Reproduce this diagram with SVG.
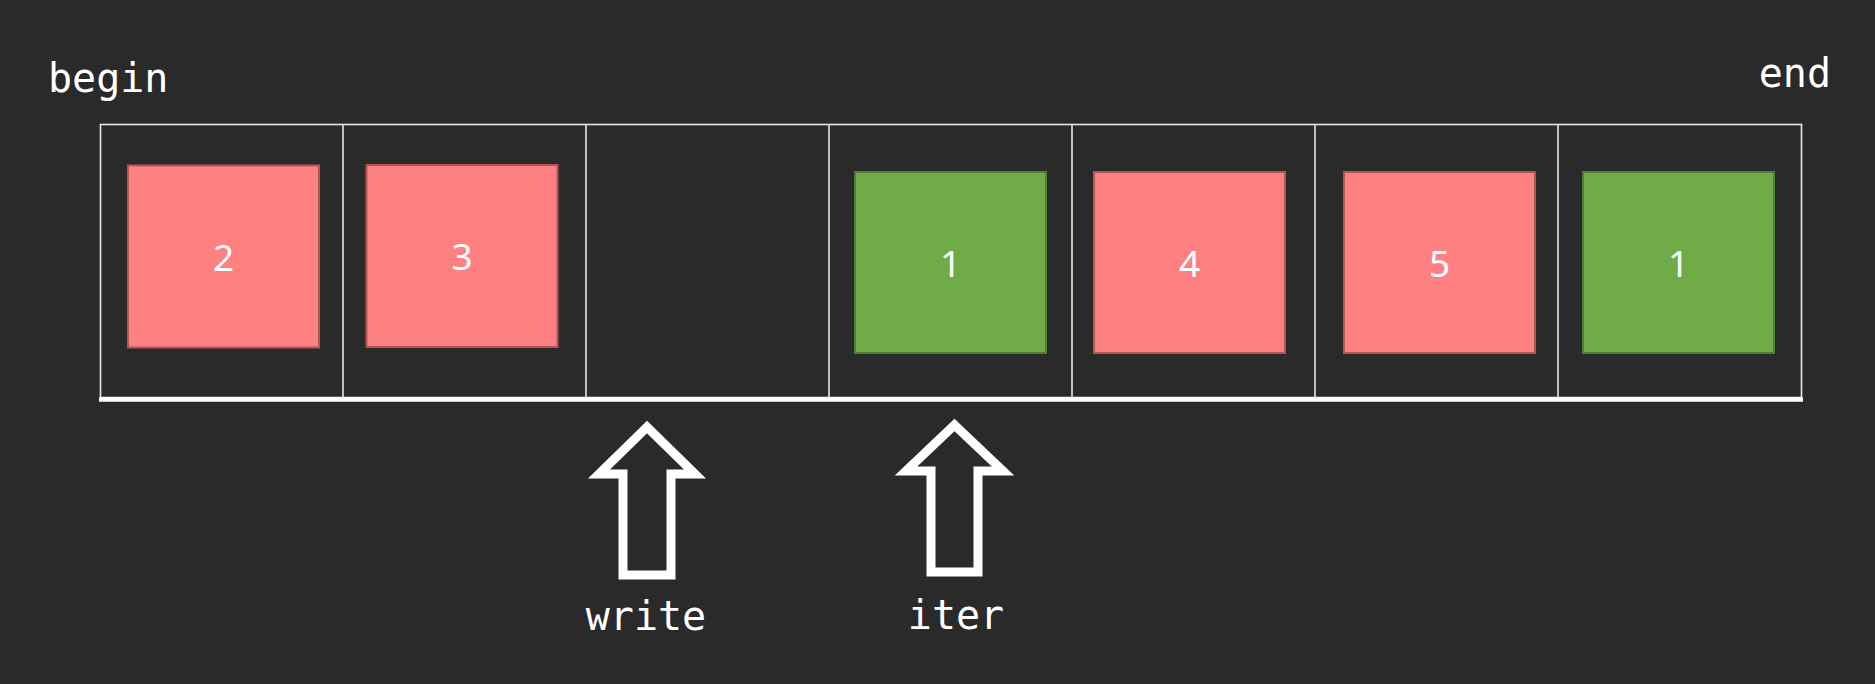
<svg xmlns="http://www.w3.org/2000/svg" width="1875" height="684" viewBox="0 0 1875 684">
<defs>
<style>
.mono{font-family:"DejaVu Sans Mono","Liberation Mono",monospace;font-size:40px;fill:#ffffff}
.num{font-family:"Noto Sans","DejaVu Sans",sans-serif;font-size:37px;fill:#ffffff;text-anchor:middle}
.cell{fill:none;stroke:#e6e6e6;stroke-width:1.6}
.red{fill:#ff8080;stroke:#b85450;stroke-width:2}
.green{fill:#6fac48;stroke:#4e7f30;stroke-width:2}
.ptr{fill:none;stroke:#ffffff;stroke-width:9;stroke-linejoin:miter}
</style>
</defs>
<rect x="0" y="0" width="1875" height="684" fill="#2a2a2a"/>
<g id="labels">
<text class="mono" x="48" y="92">begin</text>
<text class="mono" x="1831" y="87" text-anchor="end">end</text>
</g>
<g id="array">
<rect class="cell" x="100.5" y="124.5" width="1701" height="273"/>
<line class="cell" x1="343" y1="124.5" x2="343" y2="400"/>
<line class="cell" x1="586" y1="124.5" x2="586" y2="400"/>
<line class="cell" x1="829" y1="124.5" x2="829" y2="400"/>
<line class="cell" x1="1072" y1="124.5" x2="1072" y2="400"/>
<line class="cell" x1="1315" y1="124.5" x2="1315" y2="400"/>
<line class="cell" x1="1558" y1="124.5" x2="1558" y2="400"/>
<line x1="99" y1="399.5" x2="1803" y2="399.5" stroke="#ffffff" stroke-width="4.5"/>
</g>
<g id="item-2"><rect class="red" x="128" y="165.5" width="191" height="182"/><text class="num" x="223.5" y="271">2</text></g>
<g id="item-3"><rect class="red" x="366.5" y="165" width="191" height="182"/><text class="num" x="462" y="270">3</text></g>
<g id="item-1a"><rect class="green" x="855" y="172" width="191" height="181"/><text class="num" x="950.5" y="277">1</text></g>
<g id="item-4"><rect class="red" x="1094" y="172" width="191" height="181"/><text class="num" x="1189.5" y="277">4</text></g>
<g id="item-5"><rect class="red" x="1344" y="172" width="191" height="181"/><text class="num" x="1439.5" y="277">5</text></g>
<g id="item-1b"><rect class="green" x="1583" y="172" width="191" height="181"/><text class="num" x="1678.5" y="277">1</text></g>
<g id="connectors"></g>
<g id="ptr-write">
<polygon class="ptr" points="647,427 695,474 671,474 671,575 623,575 623,474 599,474"/>
<text class="mono" x="646" y="630" text-anchor="middle">write</text>
</g>
<g id="ptr-iter">
<polygon class="ptr" points="954.5,425 1003,471 978,471 978,572 931,572 931,471 906,471"/>
<text class="mono" x="956" y="629" text-anchor="middle">iter</text>
</g>
</svg>
